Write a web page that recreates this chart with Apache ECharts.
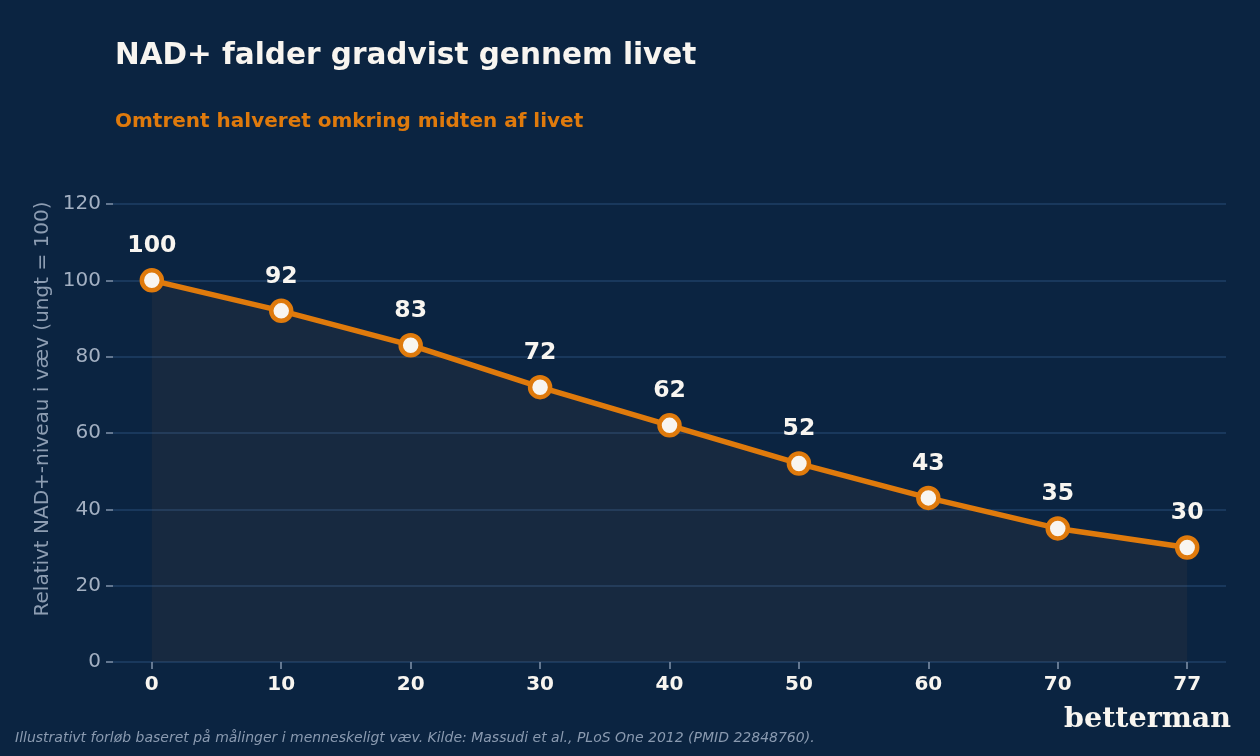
<!DOCTYPE html>
<html>
<head>
<meta charset="utf-8">
<script src="https://cdn.jsdelivr.net/npm/echarts@6/dist/echarts.min.js"></script>
<style>
html,body{margin:0;padding:0;background:#0b2441;}
#c{width:1260px;height:756px;}
</style>
</head>
<body>
<div id="c"></div>
<script>
const ages = ['0','10','20','30','40','50','60','70','77'];
const nadLevels = [100, 92, 83, 72, 62, 52, 43, 35, 30];
const yTicks = [0, 20, 40, 60, 80, 100, 120];

const titleText = 'NAD+ falder gradvist gennem livet';
const subtitleText = 'Omtrent halveret omkring midten af livet';
const yAxisName = 'Relativt NAD+-niveau i væv (ungt = 100)';
const footerText = 'Illustrativt forløb baseret på målinger i menneskeligt væv. Kilde: Massudi et al., PLoS One 2012 (PMID 22848760).';
const brandText = 'betterman';

const FONT = '"DejaVu Sans", sans-serif';
const idx = ages.map((a, i) => i);
const seriesData = nadLevels.map((v, i) => [i, v]);

const chart = echarts.init(document.getElementById('c'), null, {renderer: 'canvas'});
chart.setOption({
  backgroundColor: '#0b2441',
  animation: false,
  title: [
    {text: titleText, left: 115, top: 41, padding: 0,
     textStyle: {fontFamily: FONT, fontSize: 29.5, fontWeight: 'bold', color: '#f8f5f0'}},
    {text: subtitleText, left: 115, top: 112, padding: 0,
     textStyle: {fontFamily: FONT, fontSize: 20, fontWeight: 'bold', color: '#df7a0c'}}
  ],
  grid: {left: 113, right: 34, top: 204, bottom: 94, containLabel: false},
  xAxis: {
    type: 'value',
    min: -0.3, max: 8.3,
    axisLine: {show: false, onZero: false},
    splitLine: {show: false},
    axisTick: {show: true, customValues: idx, length: 7, lineStyle: {color: '#8193aa', width: 1.5}},
    axisLabel: {
      customValues: idx, margin: 13,
      formatter: v => ages[Math.round(v)],
      fontFamily: FONT, fontSize: 20, fontWeight: 'bold', color: '#f8f5f0'
    }
  },
  yAxis: {
    type: 'value',
    min: 0, max: 120, interval: 20,
    axisLine: {show: false, onZero: false},
    axisTick: {show: true, length: 7, lineStyle: {color: '#8193aa', width: 1.5}},
    axisLabel: {margin: 12, fontFamily: FONT, fontSize: 20, color: '#a3b0c2',
      formatter: v => yTicks.includes(v) ? String(v) : ''},
    splitLine: {show: true, lineStyle: {color: '#1f3f66', width: 1.5}}
  },
  series: [{
    type: 'line',
    data: seriesData,
    lineStyle: {color: '#df7a0c', width: 5.5},
    symbol: 'circle',
    symbolSize: 20,
    itemStyle: {color: '#f8f5f0', borderColor: '#df7a0c', borderWidth: 4.5},
    areaStyle: {color: 'rgba(200,130,60,0.09)', origin: 'start'},
    label: {
      show: true, position: 'top', distance: 10,
      formatter: p => String(p.value[1]),
      fontFamily: FONT, fontSize: 23.5, fontWeight: 'bold', color: '#f8f5f0'
    },
    z: 3
  }],
  graphic: [
    {type: 'text', x: 43, y: 409, rotation: Math.PI / 2,
     style: {text: yAxisName, fontFamily: FONT, fontSize: 20, fill: '#8d9db2',
             align: 'center', verticalAlign: 'middle'}},
    {type: 'text', left: 15, top: 731,
     style: {text: footerText, fontFamily: FONT, fontSize: 14, fontStyle: 'italic', fill: '#8a9ab0'}},
    {type: 'text', right: 29, top: 705,
     style: {text: brandText, fontFamily: '"DejaVu Serif", serif', fontSize: 28.5, fontWeight: 'bold', fill: '#f8f5f0'}}
  ]
});
</script>
</body>
</html>
